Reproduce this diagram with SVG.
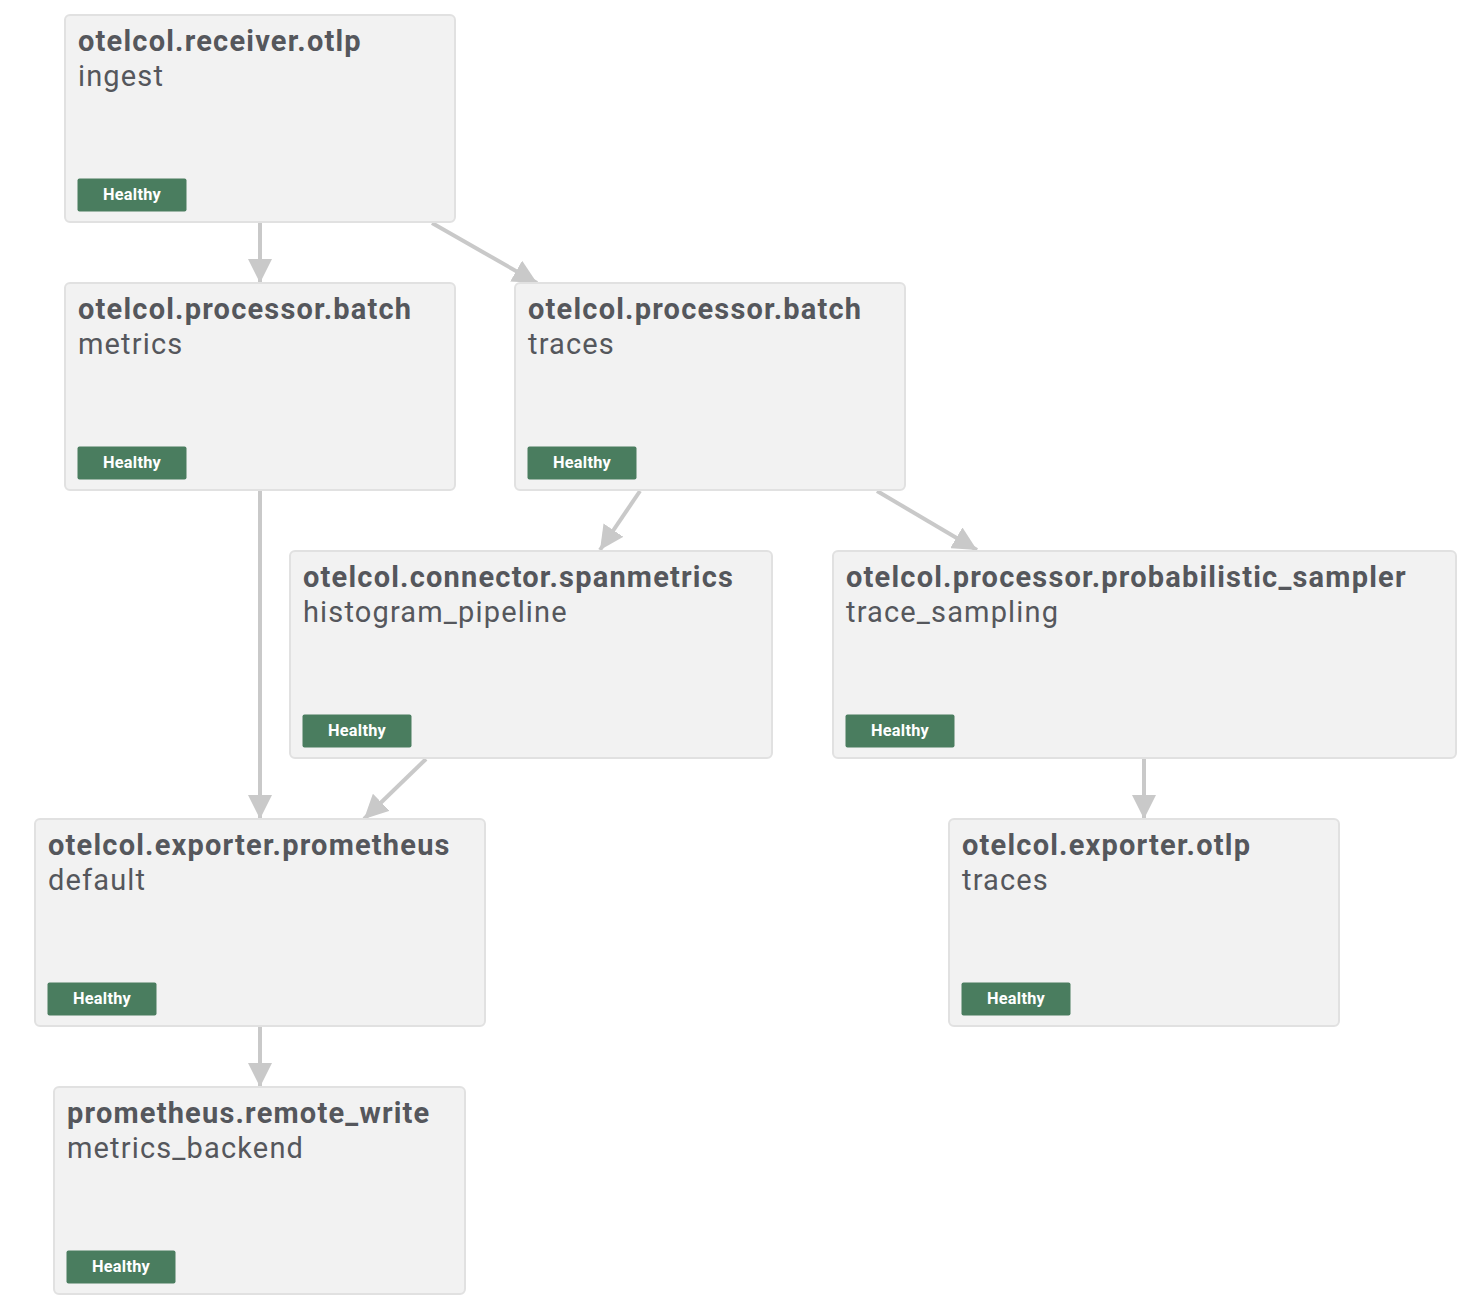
<svg xmlns="http://www.w3.org/2000/svg" width="1482" height="1316" viewBox="0 0 1482 1316">
<defs>
<style>
.box{fill:#f2f2f2;stroke:#e1e1e1;stroke-width:2}
.t{font-family:Roboto,"Liberation Sans",sans-serif;font-weight:700;font-size:29px;letter-spacing:1.2px;fill:#55575c}
.s{font-family:Roboto,"Liberation Sans",sans-serif;font-weight:400;font-size:29px;letter-spacing:1.15px;fill:#55575c}
.b{fill:#4a7d5f}
.bt{font-family:Roboto,"Liberation Sans",sans-serif;font-weight:700;font-size:16.3px;letter-spacing:0.3px;fill:#ffffff;text-anchor:middle}
.e{stroke:#c9c9c9;stroke-width:4;fill:none;marker-end:url(#ah)}
</style>
<marker id="ah" markerUnits="userSpaceOnUse" markerWidth="26" markerHeight="24" refX="24" refY="12" orient="auto" viewBox="0 0 26 24">
<path d="M0,0 L24,12 L0,24 Z" fill="#c9c9c9"/>
</marker>
</defs>
<rect width="1482" height="1316" fill="#ffffff"/>
<g id="edges">
<line class="e" x1="260" y1="223" x2="260" y2="283"/>
<line class="e" x1="432" y1="223" x2="537" y2="283"/>
<line class="e" x1="260" y1="491" x2="260" y2="819"/>
<line class="e" x1="640" y1="491" x2="600" y2="550"/>
<line class="e" x1="877" y1="491" x2="977" y2="550"/>
<line class="e" x1="426" y1="759" x2="364" y2="819"/>
<line class="e" x1="1144" y1="759" x2="1144" y2="819"/>
<line class="e" x1="260" y1="1027" x2="260" y2="1087"/>
</g>
<g id="n1" transform="translate(65,15)">
<rect class="box" x="0" y="0" width="390" height="207" rx="5"/>
<text class="t" x="13" y="36">otelcol.receiver.otlp</text>
<text class="s" x="13" y="71">ingest</text>
<rect class="b" x="12.5" y="163.5" width="109" height="33" rx="2"/>
<text class="bt" x="67" y="185">Healthy</text>
</g>
<g id="n2" transform="translate(65,283)">
<rect class="box" x="0" y="0" width="390" height="207" rx="5"/>
<text class="t" x="13" y="36">otelcol.processor.batch</text>
<text class="s" x="13" y="71">metrics</text>
<rect class="b" x="12.5" y="163.5" width="109" height="33" rx="2"/>
<text class="bt" x="67" y="185">Healthy</text>
</g>
<g id="n3" transform="translate(515,283)">
<rect class="box" x="0" y="0" width="390" height="207" rx="5"/>
<text class="t" x="13" y="36">otelcol.processor.batch</text>
<text class="s" x="13" y="71">traces</text>
<rect class="b" x="12.5" y="163.5" width="109" height="33" rx="2"/>
<text class="bt" x="67" y="185">Healthy</text>
</g>
<g id="n4" transform="translate(290,551)">
<rect class="box" x="0" y="0" width="482" height="207" rx="5"/>
<text class="t" x="13" y="36">otelcol.connector.spanmetrics</text>
<text class="s" x="13" y="71">histogram_pipeline</text>
<rect class="b" x="12.5" y="163.5" width="109" height="33" rx="2"/>
<text class="bt" x="67" y="185">Healthy</text>
</g>
<g id="n5" transform="translate(833,551)">
<rect class="box" x="0" y="0" width="623" height="207" rx="5"/>
<text class="t" x="13" y="36">otelcol.processor.probabilistic_sampler</text>
<text class="s" x="13" y="71">trace_sampling</text>
<rect class="b" x="12.5" y="163.5" width="109" height="33" rx="2"/>
<text class="bt" x="67" y="185">Healthy</text>
</g>
<g id="n6" transform="translate(35,819)">
<rect class="box" x="0" y="0" width="450" height="207" rx="5"/>
<text class="t" x="13" y="36">otelcol.exporter.prometheus</text>
<text class="s" x="13" y="71">default</text>
<rect class="b" x="12.5" y="163.5" width="109" height="33" rx="2"/>
<text class="bt" x="67" y="185">Healthy</text>
</g>
<g id="n7" transform="translate(949,819)">
<rect class="box" x="0" y="0" width="390" height="207" rx="5"/>
<text class="t" x="13" y="36">otelcol.exporter.otlp</text>
<text class="s" x="13" y="71">traces</text>
<rect class="b" x="12.5" y="163.5" width="109" height="33" rx="2"/>
<text class="bt" x="67" y="185">Healthy</text>
</g>
<g id="n8" transform="translate(54,1087)">
<rect class="box" x="0" y="0" width="411" height="207" rx="5"/>
<text class="t" x="13" y="36">prometheus.remote_write</text>
<text class="s" x="13" y="71">metrics_backend</text>
<rect class="b" x="12.5" y="163.5" width="109" height="33" rx="2"/>
<text class="bt" x="67" y="185">Healthy</text>
</g>
</svg>
